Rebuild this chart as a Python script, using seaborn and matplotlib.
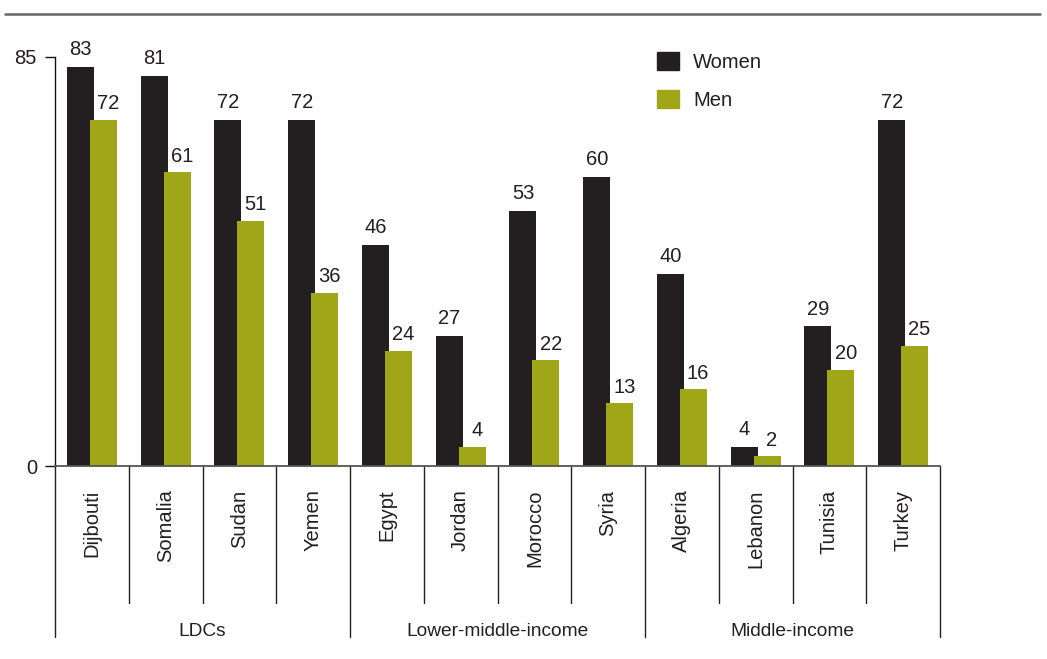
import matplotlib
matplotlib.use("Agg")
import matplotlib.pyplot as plt
import matplotlib.lines as mlines
import matplotlib.transforms as mtransforms
import seaborn as sns
import pandas as pd

# Data
countries = ["Dijbouti", "Somalia", "Sudan", "Yemen", "Egypt", "Jordan",
             "Morocco", "Syria", "Algeria", "Lebanon", "Tunisia", "Turkey"]
women = [83, 81, 72, 72, 46, 27, 53, 60, 40, 4, 29, 72]
men = [72, 61, 51, 36, 24, 4, 22, 13, 16, 2, 20, 25]
groups = ["LDCs", "Lower-middle-income", "Middle-income"]
group_sizes = [4, 4, 4]
series = ["Women", "Men"]
y_ticks = [0, 85]

WOMEN_C = "#231f20"
MEN_C = "#9fa617"
TEXT_C = "#231f20"

df = pd.DataFrame({
    "country": countries * 2,
    "value": women + men,
    "sex": [series[0]] * len(countries) + [series[1]] * len(countries),
})

sns.set_theme(style="white")
plt.rcParams["font.family"] = ["Liberation Sans", "DejaVu Sans"]

W, H = 1047, 659
fig = plt.figure(figsize=(W / 100, H / 100), dpi=100)
ax_left, ax_right, ax_top, ax_bottom = 55, 940, 57, 466
ax = fig.add_axes([ax_left / W, 1 - ax_bottom / H,
                   (ax_right - ax_left) / W, (ax_bottom - ax_top) / H])

sns.barplot(data=df, x="country", y="value", hue="sex", order=countries,
            hue_order=series, palette=[WOMEN_C, MEN_C], width=0.62,
            saturation=1, dodge=True, legend=False, ax=ax, linewidth=0)

# widen bars slightly so each pair overlaps a little
bar_w = 0.366
for p in ax.patches:
    cx = p.get_x() + p.get_width() / 2
    p.set_x(cx - bar_w / 2)
    p.set_width(bar_w)

ax.set_xlim(-0.5, len(countries) - 0.5)
ax.set_ylim(0, 85)
ax.set_yticks(y_ticks)
ax.set_yticklabels([str(t) for t in y_ticks])
ax.set_xlabel("")
ax.set_ylabel("")

# value labels above bars
n = len(countries)
for i, p in enumerate(ax.patches[:2 * n]):
    v = p.get_height()
    is_men = i >= n
    offset = (3.5, 7.5) if is_men else (0, 8.5)
    ax.annotate(f"{v:.0f}", (p.get_x() + p.get_width() / 2, v),
                xytext=offset, textcoords="offset points",
                ha="center", va="baseline", fontsize=14.5, color=TEXT_C)

# spines and ticks
for s in ["top", "right"]:
    ax.spines[s].set_visible(False)
ax.spines["left"].set_color("#111111")
ax.spines["left"].set_linewidth(1.0)
ax.spines["bottom"].set_color("#555555")
ax.spines["bottom"].set_linewidth(1.3)
ax.tick_params(axis="y", length=7, width=1, color="#111111", pad=6,
               labelsize=14.5, labelcolor=TEXT_C, left=True)
ax.tick_params(axis="x", length=0, pad=17, labelsize=14.5, labelcolor=TEXT_C,
               bottom=False)
for lbl in ax.get_xticklabels():
    lbl.set_rotation(90)
    lbl.set_va("top")
    lbl.set_ha("center")

# category separators and group brackets below the axis
axh = ax_bottom - ax_top
short_y = -(603 - ax_bottom) / axh
long_y = -(637 - ax_bottom) / axh
label_y = -(631 - ax_bottom) / axh
trans = mtransforms.blended_transform_factory(ax.transData, ax.transAxes)
bounds = [0]
for g in group_sizes:
    bounds.append(bounds[-1] + g)
for k in range(len(countries) + 1):
    x = k - 0.5
    y_end = long_y if k in bounds else short_y
    ax.add_line(mlines.Line2D([x, x], [0, y_end], transform=trans,
                              color="#222222", lw=1.0, clip_on=False))
for gi, g in enumerate(groups):
    cx = (bounds[gi] + bounds[gi + 1]) / 2 - 0.5
    ax.text(cx, label_y, g, transform=trans, ha="center", va="center",
            fontsize=13.8, color=TEXT_C)

# legend
handles = [plt.Rectangle((0, 0), 1, 1, color=WOMEN_C),
           plt.Rectangle((0, 0), 1, 1, color=MEN_C)]
fig.legend(handles, series, loc="upper left",
           bbox_to_anchor=(647 / W, 1 - 42 / H), frameon=False,
           fontsize=14.5, handlelength=1.1, handleheight=1.0,
           handletextpad=0.7, labelspacing=0.9, borderpad=0,
           labelcolor=TEXT_C)

# rule across the top of the figure
fig.add_artist(mlines.Line2D([5 / W, 1040 / W], [1 - 14 / H, 1 - 14 / H],
                             transform=fig.transFigure, color="#666666",
                             lw=1.8))

fig.savefig("out.png", dpi=100)
